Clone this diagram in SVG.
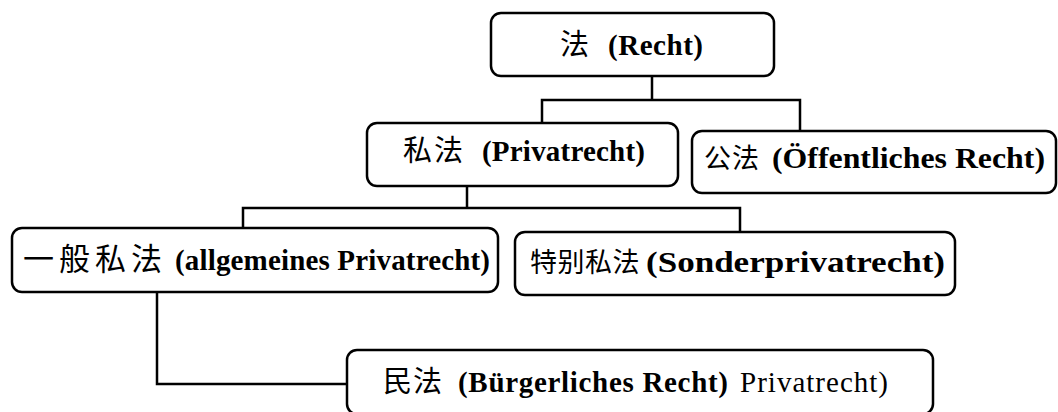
<svg xmlns="http://www.w3.org/2000/svg" width="1058" height="412" viewBox="0 0 1058 412">
<style>
.box{fill:#fff;stroke:#000;stroke-width:2.5}
.conn{fill:none;stroke:#000;stroke-width:2.5;stroke-linecap:square}
text{font-family:"Liberation Serif","Noto Sans CJK SC",serif;font-size:29px;fill:#000}
.cjk{font-family:"Noto Sans CJK SC",sans-serif}
.lat{font-family:"Liberation Serif",serif;font-weight:bold}
.reg{font-family:"Liberation Serif",serif;font-weight:normal}
</style>
<rect width="1058" height="412" fill="#fff"/>
<g id="connectors">
<path class="conn" d="M652,76 V100 M542,100 H800 M542,100 V123 M800,100 V131"/>
<path class="conn" d="M467,186 V208 M243,208 H740 M243,208 V228 M740,208 V232"/>
<path class="conn" d="M157,292 V384 H347"/>
</g>
<g id="node-recht">
<rect class="box" x="491" y="13" width="283" height="63" rx="10"/>
<text y="55"><tspan class="cjk" x="560">法</tspan><tspan class="lat" x="608" textLength="95" lengthAdjust="spacing">(Recht)</tspan></text>
</g>
<g id="node-privatrecht">
<rect class="box" x="367" y="123" width="311" height="63" rx="10"/>
<text y="161"><tspan class="cjk" x="403" letter-spacing="2">私法</tspan><tspan class="lat" x="482" textLength="163" lengthAdjust="spacing">(Privatrecht)</tspan></text>
</g>
<g id="node-oeffentliches">
<rect class="box" x="692" y="131" width="364" height="62" rx="10"/>
<text y="168"><tspan class="cjk" x="704" font-size="27" letter-spacing="1">公法</tspan><tspan class="lat" x="772" textLength="273" lengthAdjust="spacingAndGlyphs">(Öffentliches Recht)</tspan></text>
</g>
<g id="node-allgemeines">
<rect class="box" x="12" y="228" width="486" height="64" rx="10"/>
<text y="270"><tspan class="cjk" x="23" font-size="31" letter-spacing="5">一般私法</tspan><tspan class="lat" x="175" textLength="315" lengthAdjust="spacing">(allgemeines Privatrecht)</tspan></text>
</g>
<g id="node-sonder">
<rect class="box" x="515" y="232" width="440" height="63" rx="10"/>
<text y="272"><tspan class="cjk" x="530" font-size="27" letter-spacing="0.5">特别私法</tspan><tspan class="lat" x="646" font-size="30" textLength="299" lengthAdjust="spacingAndGlyphs">(Sonderprivatrecht)</tspan></text>
</g>
<g id="node-buergerliches">
<rect class="box" x="347" y="350" width="586" height="64" rx="10"/>
<text y="392"><tspan class="cjk" x="383" letter-spacing="1">民法</tspan><tspan class="lat" x="458" textLength="270" lengthAdjust="spacing">(Bürgerliches Recht)</tspan><tspan class="reg" x="740" textLength="148" lengthAdjust="spacing">Privatrecht)</tspan></text>
</g>
</svg>
